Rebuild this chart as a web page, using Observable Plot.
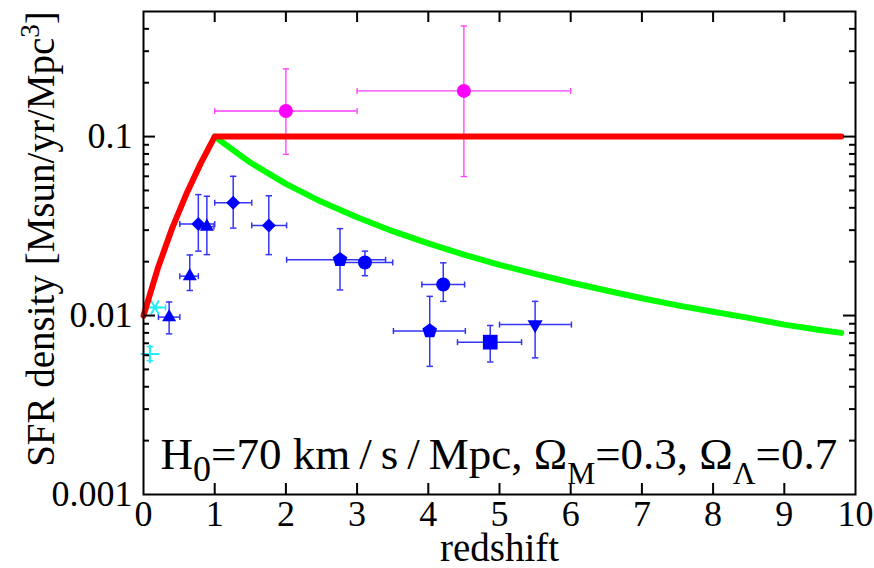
<!DOCTYPE html>
<html>
<head>
<meta charset="utf-8">
<script src="https://cdn.jsdelivr.net/npm/d3@7"></script>
<script src="https://cdn.jsdelivr.net/npm/@observablehq/plot@0.6"></script>
<style>
  html, body { margin: 0; padding: 0; background: #fff; }
  svg { display: block; }
</style>
</head>
<body>
<div id="chart"></div>
<script>
// ---------------- data ----------------
const xTicks = [0, 1, 2, 3, 4, 5, 6, 7, 8, 9, 10];
const xTickLabels = ["0", "1", "2", "3", "4", "5", "6", "7", "8", "9", "10"];
const xInnerTicks = [1, 2, 3, 4, 5, 6, 7, 8, 9];
const yTicks = [0.001, 0.01, 0.1];
const yTickLabels = ["0.001", "0.01", "0.1"];
const yMinorTicks = [0.002, 0.003, 0.004, 0.005, 0.006, 0.007, 0.008, 0.009,
                     0.02, 0.03, 0.04, 0.05, 0.06, 0.07, 0.08, 0.09,
                     0.2, 0.3, 0.4];
const xLabel = "redshift";
// rich-text pieces: [text, baseline shift (px), relative size]
const yLabelParts = [["SFR density [Msun/yr/Mpc"], ["3", -15, 0.7], ["]"]];
const annotationParts = [["H"], ["0", 12, 0.8], ["=70 km\u2009/\u2009s\u2009/\u2009Mpc, Ω"], ["M", 15, 0.7],
                         ["=0.3, Ω"], ["Λ", 15, 0.7], ["=0.7"]];

// model curves
const redZ   = [0, 0.2, 0.4, 0.6, 0.8, 1.0, 9.8];
const redSFR = [0.0100, 0.0183, 0.0306, 0.0476, 0.0704, 0.100, 0.100];
const greenZ   = [1.0, 1.5, 2.0, 2.5, 3.0, 3.5, 4.0, 4.5, 5.0, 5.5, 6.0, 6.5, 7.0, 7.5, 8.0, 8.5, 9.0, 9.5, 9.8];
const greenSFR = [0.100, 0.0716, 0.0544, 0.0432, 0.0354, 0.0296, 0.0253, 0.0219, 0.0192, 0.0171,
                  0.0153, 0.0138, 0.0125, 0.0114, 0.0105, 0.0097, 0.0089, 0.0083, 0.0080];

// blue measurements
const blueZ     = [0.77, 0.89, 1.26, 1.76, 2.76, 3.11, 4.21, 4.02, 4.87, 5.50, 0.65, 0.36];
const blueSFR   = [0.0325, 0.0314, 0.0427, 0.0319, 0.0205, 0.0198, 0.0149, 0.0082, 0.0071, 0.0089, 0.0166, 0.0098];
const blueZlo   = [0.51, 0.78, 1.00, 1.52, 2.01, 2.70, 3.91, 3.51, 4.41, 5.00, 0.51, 0.21];
const blueZhi   = [1.00, 0.99, 1.52, 2.01, 3.40, 3.50, 4.51, 4.52, 5.31, 6.01, 0.77, 0.51];
const blueSFRlo = [0.0229, 0.0219, 0.0308, 0.0219, 0.0139, 0.0167, 0.0120, 0.0052, 0.0055, 0.0058, 0.0138, 0.0079];
const blueSFRhi = [0.0474, 0.0464, 0.0600, 0.0467, 0.0306, 0.0229, 0.0197, 0.0128, 0.0088, 0.0120, 0.0218, 0.0119];
const blueKind  = ["diamond", "triangle", "diamond", "diamond", "pentagon", "circle", "circle",
                   "pentagon", "square", "downtriangle", "triangle", "triangle"];

// magenta measurements
const magentaZ     = [2.0, 4.5];
const magentaSFR   = [0.139, 0.180];
const magentaZlo   = [1.0, 3.0];
const magentaZhi   = [3.0, 6.0];
const magentaSFRlo = [0.0796, 0.0598];
const magentaSFRhi = [0.239, 0.415];
const magentaKind  = ["circle", "circle"];

// cyan measurements
const cyanZ     = [0.16, 0.09];
const cyanSFR   = [0.0111, 0.0061];
const cyanZlo   = [0.06, 0.09];
const cyanZhi   = [0.31, 0.09];
const cyanSFRlo = [0.0111, 0.0056];
const cyanSFRhi = [0.0111, 0.0067];
const cyanKind  = ["asterisk", "plus"];

// ---------------- layout ----------------
const W = 874, H = 568;
const mL = 143, mR = 19, mT = 11, mB = 74;
const frameW = W - mL - mR, frameH = H - mT - mB;

function table(z, sfr, zlo, zhi, lo, hi, kind) {
  return z.map((_, i) => ({z: z[i], sfr: sfr[i], zlo: zlo[i], zhi: zhi[i], lo: lo[i], hi: hi[i], kind: kind[i]}));
}
const blue = table(blueZ, blueSFR, blueZlo, blueZhi, blueSFRlo, blueSFRhi, blueKind);
const magenta = table(magentaZ, magentaSFR, magentaZlo, magentaZhi, magentaSFRlo, magentaSFRhi, magentaKind);
const cyan = table(cyanZ, cyanSFR, cyanZlo, cyanZhi, cyanSFRlo, cyanSFRhi, cyanKind);
const red = redZ.map((z, i) => ({z, sfr: redSFR[i]}));
const green = greenZ.map((z, i) => ({z, sfr: greenSFR[i]}));

const capV = {draw(ctx) { ctx.moveTo(0, -3); ctx.lineTo(0, 3); }};
const capH = {draw(ctx) { ctx.moveTo(-3.2, 0); ctx.lineTo(3.2, 0); }};
const pentagon = {draw(ctx, size) {
  const r = Math.sqrt(size / Math.PI) * 1.1;
  for (let i = 0; i < 5; i++) {
    const a = -Math.PI / 2 + i * 2 * Math.PI / 5;
    const x = r * Math.cos(a), y = r * Math.sin(a);
    if (i) ctx.lineTo(x, y); else ctx.moveTo(x, y);
  }
  ctx.closePath();
}};
const markerStyle = {
  diamond: {symbol: d3.symbolDiamond2, r: 6.3, rotate: 0},
  triangle: {symbol: d3.symbolTriangle, r: 5.2, rotate: 0},
  downtriangle: {symbol: d3.symbolTriangle, r: 5.6, rotate: 180},
  circle: {symbol: d3.symbolCircle, r: 7, rotate: 0},
  square: {symbol: d3.symbolSquare, r: 8.3, rotate: 0},
  pentagon: {symbol: pentagon, r: 7, rotate: 0},
  asterisk: {symbol: d3.symbolAsterisk, r: 7.5, rotate: 90, stroked: true},
  plus: {symbol: d3.symbolPlus, r: 6, rotate: 0, stroked: true}
};

function errorMarks(data, color, width) {
  const xe = data.filter(d => d.zhi > d.zlo);
  const ye = data.filter(d => d.hi > d.lo);
  const o = {stroke: color, strokeWidth: width, fill: "none"};
  return [
    Plot.ruleY(xe, {y: "sfr", x1: "zlo", x2: "zhi", stroke: color, strokeWidth: width}),
    Plot.ruleX(ye, {x: "z", y1: "lo", y2: "hi", stroke: color, strokeWidth: width}),
    Plot.dot(xe, {x: "zlo", y: "sfr", symbol: capV, ...o}),
    Plot.dot(xe, {x: "zhi", y: "sfr", symbol: capV, ...o}),
    Plot.dot(ye, {x: "z", y: "lo", symbol: capH, ...o}),
    Plot.dot(ye, {x: "z", y: "hi", symbol: capH, ...o})
  ];
}
function pointMarks(data, color) {
  const kinds = [...new Set(data.map(d => d.kind))];
  return kinds.map(k => {
    const s = markerStyle[k];
    const sub = data.filter(d => d.kind === k);
    return s.stroked
      ? Plot.dot(sub, {x: "z", y: "sfr", symbol: s.symbol, r: s.r, rotate: s.rotate, fill: "none", stroke: color, strokeWidth: 2})
      : Plot.dot(sub, {x: "z", y: "sfr", symbol: s.symbol, r: s.r, rotate: s.rotate, fill: color, stroke: "none"});
  });
}

const plainOf = parts => parts.map(p => p[0]).join("");
const yLabel = plainOf(yLabelParts);
const annotation = plainOf(annotationParts);

const chart = Plot.plot({
  width: W, height: H,
  marginLeft: mL, marginRight: mR, marginTop: mT, marginBottom: mB,
  style: {fontFamily: "'Liberation Serif', 'DejaVu Serif', serif", fontSize: "36px", background: "white", color: "black", overflow: "visible"},
  x: {domain: [0, 10], label: null},
  y: {type: "log", domain: [0.001, 0.5], label: null},
  marks: [
    ...errorMarks(cyan, "#22e8f0", 1.5),
    ...errorMarks(blue, "#3535f5", 1.5),
    ...errorMarks(magenta, "#ff3cff", 1.3),
    ...pointMarks(cyan, "#22eef5"),
    ...pointMarks(blue, "#0000ff"),
    ...pointMarks(magenta, "#ff00ff"),
    Plot.line(green, {x: "z", y: "sfr", stroke: "#00ff00", strokeWidth: 6}),
    Plot.line(red, {x: "z", y: "sfr", stroke: "#ff0000", strokeWidth: 6}),
    // inward ticks
    Plot.tickX(xInnerTicks, {x: d => d, stroke: "black", strokeWidth: 2, insetTop: frameH - 11}),
    Plot.tickX(xInnerTicks, {x: d => d, stroke: "black", strokeWidth: 2, insetBottom: frameH - 11}),
    Plot.tickY([0.01, 0.1], {y: d => d, stroke: "black", strokeWidth: 2, insetRight: frameW - 12}),
    Plot.tickY([0.01, 0.1], {y: d => d, stroke: "black", strokeWidth: 2, insetLeft: frameW - 12}),
    Plot.tickY(yMinorTicks, {y: d => d, stroke: "black", strokeWidth: 2, insetRight: frameW - 6}),
    Plot.tickY(yMinorTicks, {y: d => d, stroke: "black", strokeWidth: 2, insetLeft: frameW - 6}),
    Plot.frame({stroke: "black", strokeWidth: 2}),
    Plot.axisX({ticks: xTicks, tickFormat: d => xTickLabels[xTicks.indexOf(d)], tickSize: 0, tickPadding: 6, label: null, fontSize: 36}),
    Plot.axisY({ticks: yTicks, tickFormat: d => yTickLabels[yTicks.indexOf(d)], tickSize: 0, tickPadding: 11, label: null, fontSize: 36}),
    Plot.text([xLabel], {text: d => d, frameAnchor: "bottom", textAnchor: "middle", lineAnchor: "bottom", dy: 66, fontSize: 39}),
    Plot.text([yLabel], {text: d => d, frameAnchor: "left", textAnchor: "middle", rotate: -90, lineAnchor: "bottom", dx: -90, dy: -14, fontSize: 39}),
    Plot.text([annotation], {text: d => d, frameAnchor: "bottom-left", textAnchor: "start", lineAnchor: "bottom", dx: 17, dy: -26, fontSize: 45})
  ]
});

// rich text (sub/superscripts)
function richText(svg, parts) {
  const plain = plainOf(parts);
  d3.select(svg).selectAll("text").filter(function () { return this.textContent === plain; }).each(function () {
    const t = d3.select(this);
    t.text(null);
    let cur = 0;
    for (const [s, shift = 0, size = 1] of parts) {
      const ts = t.append("tspan").text(s);
      if (shift !== cur) ts.attr("dy", shift - cur);
      if (size !== 1) ts.attr("font-size", size + "em");
      cur = shift;
    }
  });
}
richText(chart, yLabelParts);
richText(chart, annotationParts);

document.getElementById("chart").appendChild(chart);
</script>
</body>
</html>
